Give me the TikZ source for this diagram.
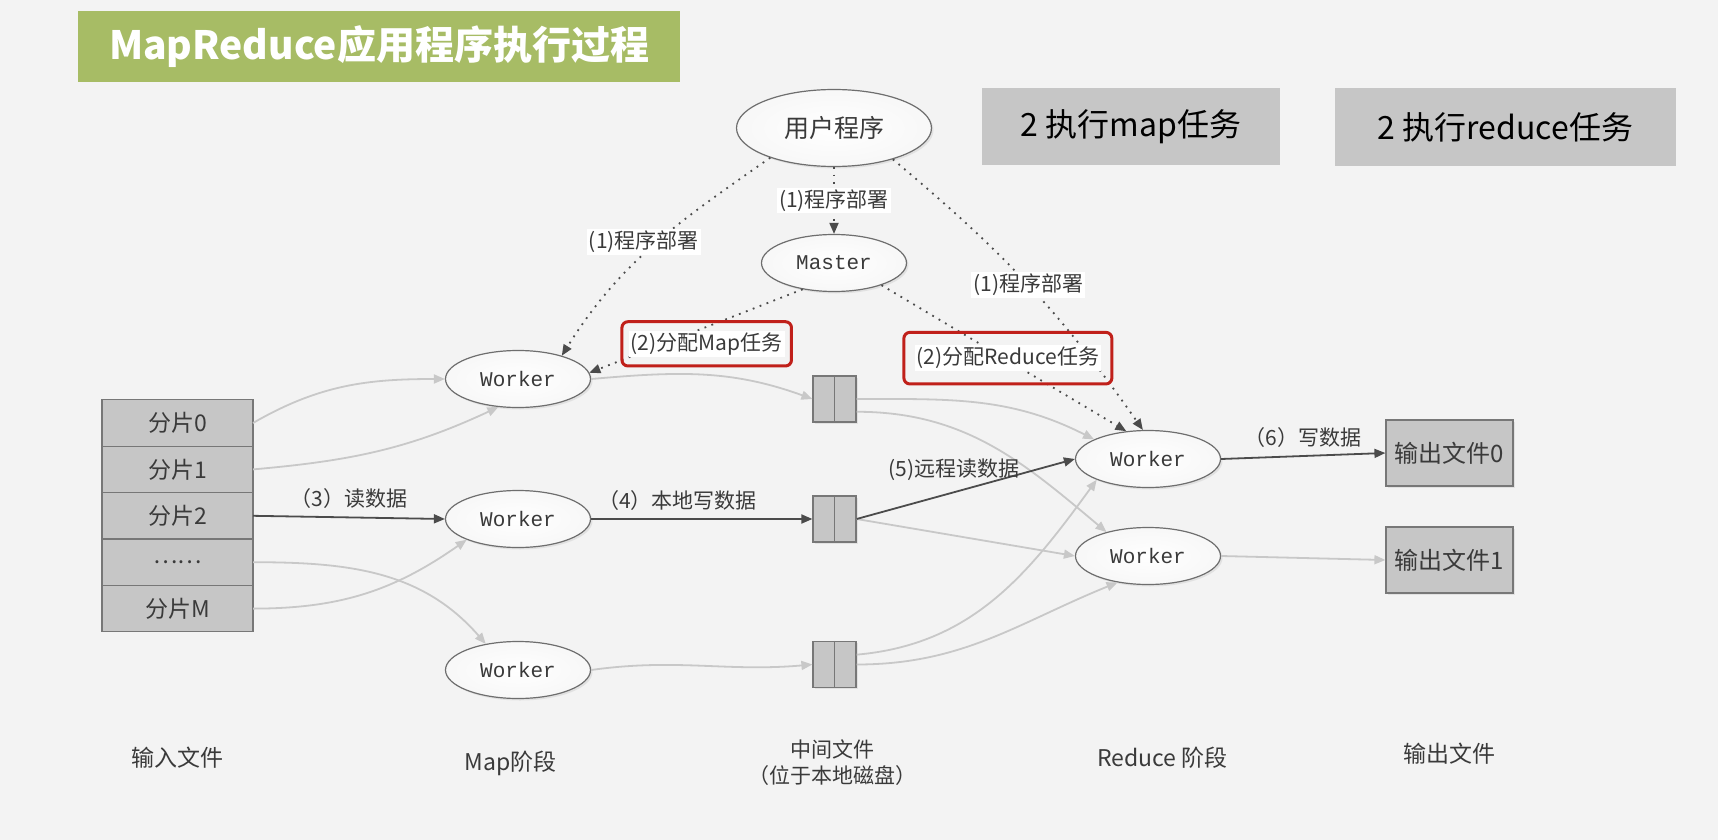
\documentclass[tikz,border=0pt]{standalone}
\usepackage{fontspec}
\setmainfont{Noto Sans CJK SC}
\newfontfamily\monofont{Liberation Mono}
\usepackage{tikz}
\usetikzlibrary{positioning}
\usetikzlibrary{shapes.geometric}
\usetikzlibrary{arrows.meta}
\usetikzlibrary{fit}
\usetikzlibrary{shadows}

\definecolor{bgcol}{HTML}{F3F3F3}
\definecolor{titlegreen}{HTML}{A7BC65}
\definecolor{boxgray}{HTML}{C6C6C6}
\definecolor{boxborder}{HTML}{777777}
\definecolor{ellborder}{HTML}{6E6E6E}
\definecolor{lightline}{HTML}{C8C8C8}
\definecolor{darkline}{HTML}{4B4B4B}
\definecolor{redframe}{HTML}{C0201A}
\definecolor{textgray}{HTML}{3A3A3A}

\begin{document}
\begin{tikzpicture}[x=0.5pt, y=-0.5pt,
    every node/.style={text=textgray, inner sep=1pt},
    worker/.style={ellipse, draw=ellborder, line width=0.6pt, inner color=white, outer color=black!3,
      minimum width=72.5pt, minimum height=28.5pt,
      drop shadow={shadow xshift=1pt, shadow yshift=-1pt, opacity=0.15},
      font=\monofont\fontsize{10.5}{12}\selectfont},
    piece/.style={rectangle, draw=boxborder, fill=boxgray, line width=0.6pt, outer sep=0pt,
      minimum width=75.5pt, minimum height=23.2pt, font=\fontsize{11.5}{13}\selectfont},
    midfile/.style={rectangle, draw=boxborder, fill=boxgray, line width=0.6pt,
      minimum width=21.5pt, minimum height=23pt,
      drop shadow={shadow xshift=0.8pt, shadow yshift=-0.8pt, opacity=0.15}},
    outfile/.style={rectangle, draw=boxborder, fill=boxgray, line width=0.6pt,
      minimum width=63.5pt, minimum height=33pt,
      drop shadow={shadow xshift=0.8pt, shadow yshift=-0.8pt, opacity=0.15},
      font=\fontsize{12}{14}\selectfont},
    taskbox/.style={rectangle, fill=boxgray, minimum height=38.5pt, text=black,
      font=\fontsize{16}{18}\selectfont},
    stagelbl/.style={align=center, font=\fontsize{11.5}{14}\selectfont},
    lbl/.style={fill=white, font=\fontsize{10.5}{12}\selectfont},
    plainlbl/.style={font=\fontsize{10.5}{12}\selectfont},
    redbox/.style={draw=redframe, line width=1.5pt, rounded corners=3pt},
    ctrl/.style={darkline, line width=0.9pt, dash pattern=on 0.9pt off 2.8pt,
      -{Triangle[length=5.5pt, width=4.5pt]}},
    flow/.style={lightline, line width=0.9pt, -{Triangle[length=5.5pt, width=4.5pt]}},
    mainflow/.style={darkline, line width=0.9pt, -{Triangle[length=5.5pt, width=4.5pt]}}]

  % page and frame
  \fill[bgcol] (0,0) rectangle (1718,840);
  \useasboundingbox (0,0) rectangle (1718,840);

  % heading and the two task boxes
  \node[fill=titlegreen, text=white, minimum width=301pt, minimum height=35.5pt,
    font=\bfseries\fontsize{19.5}{22}\selectfont] (title) at (379,46.5) {MapReduce应用程序执行过程};
  \node[taskbox, minimum width=149pt] (mapjob) at (1131,126.5) {2 执行map任务};
  \node[taskbox, minimum width=170.5pt] (redjob) at (1505.5,127) {2 执行reduce任务};

  % user program and master
  \node[worker, minimum width=97.5pt, minimum height=38.5pt, font=\fontsize{12.5}{14}\selectfont] (user) at (834,128) {用户程序};
  \node[worker] (master) at (834,263) {Master};

  % input splits
  \node[piece] (in0) at (177.5,423) {分片0};
  \foreach \i/\t [count=\j from 0] in {1/分片1, 2/分片2, 3/……, 4/分片M} {
    \node[piece, below=0pt of in\j] (in\i) {\t};
  }

  % map workers
  \foreach \i/\y in {1/379, 2/519, 3/670} {
    \node[worker] (mw\i) at (518,\y) {Worker};
  }

  % intermediate files on local disk
  \foreach \i/\y in {1/399, 2/519, 3/664.5} {
    \node[midfile] (f\i) at (834.5,\y) {};
    \draw[boxborder, line width=0.6pt] (f\i.north) -- (f\i.south);
  }

  % reduce workers and output files
  \node[worker] (rw1) at (1148,459) {Worker};
  \node[worker] (rw2) at (1148,556) {Worker};
  \node[outfile] (out0) at (1449.5,453) {输出文件0};
  \node[outfile] (out1) at (1449.5,560) {输出文件1};

  % stage captions
  \node[stagelbl] (capin) at (177.5,758) {输入文件};
  \node[stagelbl] (capmap) at (510.5,763.5) {Map阶段};
  \node[stagelbl, font=\fontsize{10.5}{13}\selectfont] (capmid) at (832,763) {中间文件\\（位于本地磁盘）};
  \node[stagelbl] (capred) at (1162.5,758) {Reduce 阶段};
  \node[stagelbl] (capout) at (1449.5,754) {输出文件};

  % light data paths
  \draw[flow] (in0.east) to[out=30, in=180] (mw1.west);
  \draw[flow] (in1.east) to[out=5, in=205] (mw1.235);
  \draw[flow] (in3.east) to[out=0, in=131] (mw3.141);
  \draw[flow] (in4.east) to[out=0, in=215] (mw2.202);
  \draw[flow] (mw1.east) to[out=5, in=160] (f1.west);
  \draw[flow] (mw3.east) to[out=8, in=185] (f3.west);
  \draw[flow] (f1.east) to[out=0, in=153] (rw1.160);
  \draw[flow] (f1.-30) to[out=0, in=140] (rw2.150);
  \draw[flow] (f2.east) -- (rw2.west);
  \draw[flow] (f3.24) to[out=5, in=234] (rw1.202);
  \draw[flow] (f3.east) to[out=0, in=202] (rw2.221);
  \draw[flow] (rw2.east) -- (out1.west);

  % the traced path (3)-(6)
  \draw[mainflow] (in2.east) -- node[plainlbl, above=3pt] (rd) {（3）读数据} (mw2.west);
  \draw[mainflow] (mw2.east) -- node[plainlbl, above=3pt, pos=0.39] (wr) {（4）本地写数据} (f2.west);
  \draw[mainflow] (f2.east) -- node[plainlbl, pos=0.76, anchor=south east, yshift=-5pt] (rr) {(5)远程读数据} (rw1.west);
  \draw[mainflow] (rw1.east) -- node[plainlbl, above=3pt] (wo) {（6）写数据} (out0.west);

  % deployment (1)
  \draw[ctrl] (user.south) -- node[lbl] (dep0) {(1)程序部署} (master.north);
  \draw[ctrl] (user.205) to[out=215, in=58] node[lbl, pos=0.48, xshift=-7pt] (dep1) {(1)程序部署} (mw1.28);
  \draw[ctrl] (user.-28) to[out=-40, in=125] node[lbl, pos=0.5] (dep2) {(1)程序部署} (rw1.100);

  % task assignment (2)
  \draw[ctrl] (master.220) -- node[lbl, pos=0.45, yshift=-8.5pt] (asgmap) {(2)分配Map任务} (mw1.5);
  \draw[ctrl] (master.-25) -- node[lbl, pos=0.5, xshift=2pt] (asgred) {(2)分配Reduce任务} (rw1.128);
  \node[redbox, fit=(asgmap), inner xsep=3pt, inner ysep=4pt] (rmap) {};
  \node[redbox, fit=(asgred), inner xsep=5pt, inner ysep=6pt] (rred) {};
\end{tikzpicture}
\end{document}
